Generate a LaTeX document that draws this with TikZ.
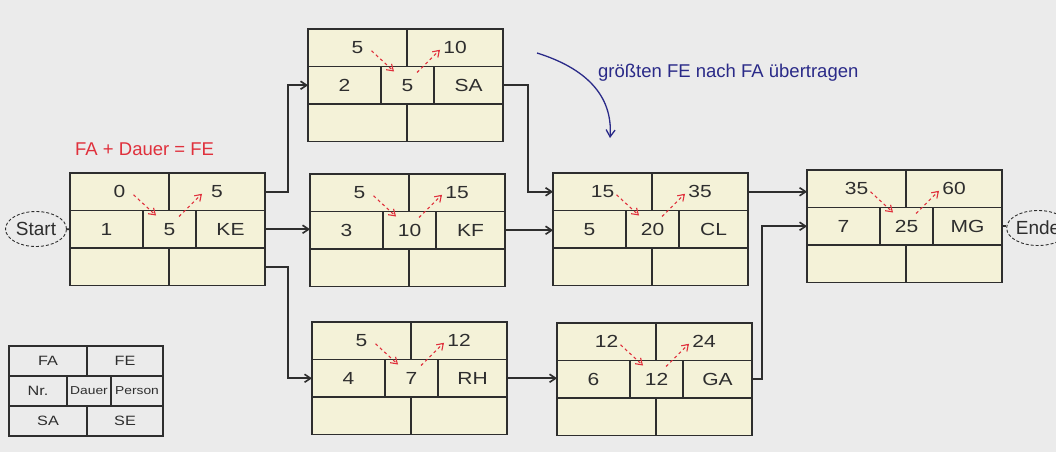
\documentclass[tikz,border=0pt]{standalone}
\usepackage{fontspec}
\setmainfont{Liberation Sans}
\newfontfamily\wide[FakeStretch=1.2]{Liberation Sans}
\usetikzlibrary{arrows.meta,positioning,shapes.geometric,calc}
\definecolor{bg}{HTML}{EBEBEB}
\definecolor{cellc}{HTML}{F4F2D8}
\definecolor{linec}{HTML}{2E2E2E}
\definecolor{calcc}{HTML}{E0303C}
\definecolor{notec}{HTML}{2A2A88}
\tikzset{
  cell/.style={rectangle, draw=linec, line width=1.6pt, fill=cellc, minimum height=37.5pt,
    inner sep=0pt, outer sep=0pt, anchor=north west, text=linec, font=\wide\fontsize{17.5}{17.5}\selectfont},
  legcell/.style={rectangle, draw=linec, line width=1.4pt, minimum height=30pt,
    inner sep=0pt, outer sep=0pt, anchor=north west, text=linec, font=\wide\fontsize{13.5}{13.5}\selectfont},
  term/.style={ellipse, draw=linec, densely dashed, line width=0.9pt, minimum width=61pt,
    minimum height=35pt, inner sep=0pt, text=linec, font=\fontsize{19}{19}\selectfont},
  wire/.style={line width=1.6pt, draw=linec},
  link/.style={wire, -{Straight Barb[length=6pt,width=8pt]}},
  calcarrow/.style={-{Straight Barb[length=6pt,width=8pt]}, dashed, line width=1.1pt, draw=calcc},
}
% one activity: #1 name, #2 top left corner, #3 FA, #4 FE, #5 Nr., #6 Dauer, #7 Person
\newcommand{\vorgang}[7]{%
  \node[cell, minimum width=99pt] (#1-fa) at #2 {#3};
  \node[cell, minimum width=96pt] (#1-fe) at (#1-fa.north east) {#4};
  \node[cell, minimum width=73pt] (#1-nr) at (#1-fa.south west) {#5};
  \node[cell, minimum width=53pt] (#1-du) at (#1-nr.north east) {\raisebox{-2pt}{#6}};
  \node[cell, minimum width=69pt] (#1-pe) at (#1-du.north east) {#7};
  \node[cell, minimum width=99pt] (#1-sa) at (#1-nr.south west) {};
  \node[cell, minimum width=96pt] (#1-se) at (#1-sa.north east) {};
  \draw[calcarrow] ($(#1-fa.center)+(14,3)$) -- ($(#1-du.north west)+(13,5)$);
  \draw[calcarrow] ($(#1-du.north east)+(-17,6)$) -- ($(#1-fe.center)+(-15,2)$);}

\begin{document}
\begin{tikzpicture}[x=1pt, y=-1pt]
  \fill[bg] (0,0) rectangle (1056,452);
  \useasboundingbox (0,0) rectangle (1056,452);
  \clip (0,0) rectangle (1056,452);

  \vorgang{KE}{(70,173)}{0}{5}{1}{5}{KE}
  \vorgang{SA}{(308,29)}{5}{10}{2}{5}{SA}
  \vorgang{KF}{(310,174)}{5}{15}{3}{10}{KF}
  \vorgang{RH}{(312,322)}{5}{12}{4}{7}{RH}
  \vorgang{CL}{(553,173)}{15}{35}{5}{20}{CL}
  \vorgang{GA}{(557,323)}{12}{24}{6}{12}{GA}
  \vorgang{MG}{(807,170)}{35}{60}{7}{25}{MG}

  \node[term] (start) at (36,229) {Start};
  \node[term] (ende) at (1038,228) {Ende};

  \coordinate (split) at (288,0);
  \coordinate (merge) at (528,0);
  \coordinate (rise) at (762,0);

  \draw[wire] (start) -- (KE-nr.west);
  \draw[link] (KE-fe.east) -- (KE-fe.east -| split) |- (SA-nr.west);
  \draw[link] (KE-pe.east) -- (KE-pe.east -| KF-nr.west);
  \draw[link] (KE-se.east) -- (KE-se.east -| split) |- (RH-nr.west);
  \draw[link] (SA-pe.east) -- (SA-pe.east -| merge) |- (CL-fa.west);
  \draw[link] (KF-pe.east) -- (KF-pe.east -| CL-nr.west);
  \draw[link] (CL-fe.east) -- (CL-fe.east -| MG-fa.west);
  \draw[link] (RH-pe.east) -- (RH-pe.east -| GA-nr.west);
  \draw[link] (GA-pe.east) -- (GA-pe.east -| rise) |- (MG-nr.west);
  \draw[wire] (MG-pe.east) -- (MG-pe.east -| ende.west);

  % legend
  \node[legcell, minimum width=78pt] (lg-fa) at (9,346) {FA};
  \node[legcell, minimum width=76pt] (lg-fe) at (lg-fa.north east) {FE};
  \node[legcell, minimum width=58pt] (lg-nr) at (lg-fa.south west) {Nr.};
  \node[legcell, minimum width=44pt, font=\wide\fontsize{11.5}{11.5}\selectfont] (lg-du) at (lg-nr.north east) {Dauer};
  \node[legcell, minimum width=52pt, font=\wide\fontsize{11.5}{11.5}\selectfont] (lg-pe) at (lg-du.north east) {Person};
  \node[legcell, minimum width=78pt] (lg-sa) at (lg-nr.south west) {SA};
  \node[legcell, minimum width=76pt] (lg-se) at (lg-sa.north east) {SE};

  % notes
  \node[text=calcc, font=\fontsize{18.5}{18.5}\selectfont, anchor=west, inner sep=0pt] (formel) at (75,149) {FA + Dauer = FE};
  \node[text=notec, font=\fontsize{18.5}{18.5}\selectfont, anchor=west, inner sep=0pt] (hinweis) at (598,73) {größten FE nach FA übertragen};
  \coordinate (bogen-a) at (537,53);
  \coordinate (bogen-b) at (610,138);
  \draw[notec, line width=1.3pt, -{Straight Barb[length=7pt,width=9pt]}] (bogen-a) .. controls (585,68) and (613,95) .. (bogen-b);
\end{tikzpicture}
\end{document}
